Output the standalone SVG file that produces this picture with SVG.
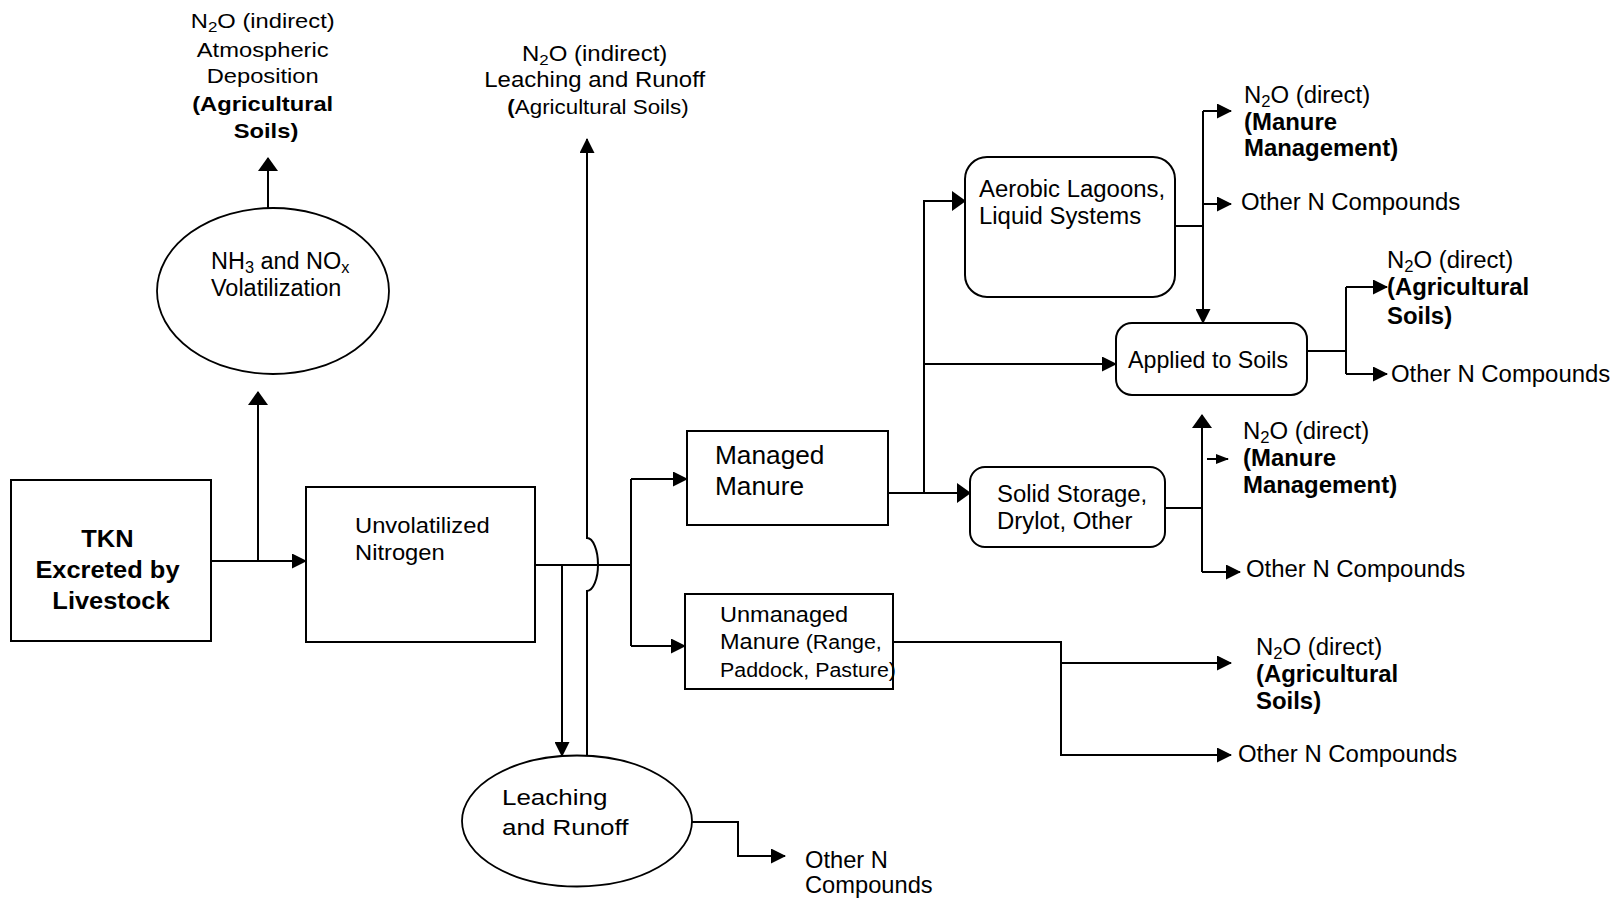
<svg xmlns="http://www.w3.org/2000/svg" width="1617" height="900" viewBox="0 0 1617 900">
<defs>
<style>
.t{font-family:"Liberation Sans",Arial,Helvetica,sans-serif;fill:#000;}
.b{font-weight:bold;}
.box{fill:#fff;stroke:#000;stroke-width:2;}
.ell{fill:#fff;stroke:#000;stroke-width:1.8;}
.ln{fill:none;stroke:#000;stroke-width:2;}
</style>
<marker id="aL" markerUnits="userSpaceOnUse" markerWidth="14" markerHeight="20" refX="13" refY="10" orient="auto"><path d="M0,0 L14,10 L0,20 z" fill="#000"/></marker>
<marker id="aM" markerUnits="userSpaceOnUse" markerWidth="15" markerHeight="15" refX="14" refY="7.5" orient="auto"><path d="M0,0 L15,7.5 L0,15 z" fill="#000"/></marker>
<marker id="aS" markerUnits="userSpaceOnUse" markerWidth="13" markerHeight="10" refX="12" refY="5" orient="auto"><path d="M0,0 L13,5 L0,10 z" fill="#000"/></marker>
</defs>
<rect width="1617" height="900" fill="#fff"/>

<g id="connectors" class="ln">
<path d="M211,561 H306" marker-end="url(#aM)"/>
<path d="M258,561 V392" marker-end="url(#aL)"/>
<path d="M268,208 V158" marker-end="url(#aL)"/>
<path d="M535,565 H631"/>
<path d="M631,479 V646"/>
<path d="M631,479 H687" marker-end="url(#aM)"/>
<path d="M631,646 H685" marker-end="url(#aM)"/>
<path d="M562,565 V756" marker-end="url(#aM)"/>
<path d="M587,755 V591 A11,26.5 0 0 0 587,538 V139" marker-end="url(#aM)"/>
<path d="M888,493 H970" marker-end="url(#aL)"/>
<path d="M924,493 V201 H965" marker-end="url(#aL)"/>
<path d="M924,364 H1116" marker-end="url(#aM)"/>
<path d="M1175,226 H1203"/>
<path d="M1203,111 V323" marker-end="url(#aM)"/>
<path d="M1203,111 H1231" marker-end="url(#aM)"/>
<path d="M1203,204 H1231" marker-end="url(#aM)"/>
<path d="M1307,351 H1346"/>
<path d="M1346,287 V374"/>
<path d="M1346,287 H1387" marker-end="url(#aM)"/>
<path d="M1346,374 H1387" marker-end="url(#aM)"/>
<path d="M1165,508 H1202"/>
<path d="M1202,572 V415" marker-end="url(#aL)"/>
<path d="M1202,572 H1240" marker-end="url(#aM)"/>
<path d="M1207,459 H1228" marker-end="url(#aS)"/>
<path d="M893,642 H1061 V755 H1231" marker-end="url(#aM)"/>
<path d="M1061,663 H1231" marker-end="url(#aM)"/>
<path d="M692,822 H738 V856 H785" marker-end="url(#aM)"/>
</g>

<g id="n2o-atmospheric">
<text class="t" font-size="21" text-anchor="middle" transform="translate(266,28.3) scale(1.13,1)">
<tspan x="0" y="0">N<tspan font-size="15" dy="4">2</tspan><tspan dy="-4">O (indirect)</tspan></tspan>
<tspan x="0" y="28.4">Atmospheric</tspan>
<tspan x="0" y="55">Deposition</tspan>
<tspan x="0" y="82.7" class="b">(Agricultural</tspan>
<tspan x="0" y="110" class="b">Soils)</tspan>
</text>
</g>

<g id="n2o-leaching">
<text class="t" font-size="22" text-anchor="middle" transform="translate(598,61) scale(1.09,1)">
<tspan x="0" y="0">N<tspan font-size="15.5" dy="4">2</tspan><tspan dy="-4">O (indirect)</tspan></tspan>
<tspan x="0" y="26.3">Leaching and Runoff</tspan>
<tspan x="0" y="53.3" font-size="20.5"><tspan class="b">(</tspan>Agricultural Soils)</tspan>
</text>
</g>

<g id="volatilization">
<ellipse class="ell" cx="273" cy="291" rx="116" ry="83"/>
<text class="t" font-size="23" transform="translate(211,269) scale(1.02,1)">
<tspan x="0" y="0">NH<tspan font-size="16" dy="4">3</tspan><tspan dy="-4"> and NO</tspan><tspan font-size="16" dy="4">x</tspan></tspan>
<tspan x="0" y="27">Volatilization</tspan>
</text>
</g>

<g id="tkn">
<rect class="box" x="11" y="480" width="200" height="161"/>
<text class="t b" font-size="24" text-anchor="middle" transform="translate(111,547) scale(1.06,1)">
<tspan x="0" y="0">TKN</tspan>
<tspan x="0" y="31">Excreted by</tspan>
<tspan x="0" y="62">Livestock</tspan>
</text>
</g>

<g id="unvolatilized">
<rect class="box" x="306" y="487" width="229" height="155"/>
<text class="t" font-size="22" transform="translate(355,533) scale(1.08,1)">
<tspan x="0" y="0">Unvolatilized</tspan>
<tspan x="0" y="27">Nitrogen</tspan>
</text>
</g>

<g id="managed">
<rect class="box" x="687" y="431" width="201" height="94"/>
<text class="t" font-size="25" transform="translate(715,464) scale(1.05,1)">
<tspan x="0" y="0">Managed</tspan>
<tspan x="0" y="31">Manure</tspan>
</text>
</g>

<g id="unmanaged">
<rect class="box" x="685" y="594" width="208" height="95"/>
<text class="t" font-size="22" transform="translate(720,622) scale(1.07,1)">
<tspan x="0" y="0">Unmanaged</tspan>
<tspan x="0" y="27.3">Manure<tspan font-size="20"> (Range,</tspan></tspan>
<tspan x="0" y="54.7" font-size="20">Paddock, Pasture)</tspan>
</text>
</g>

<g id="leaching">
<ellipse class="ell" cx="577" cy="821" rx="115" ry="65.5"/>
<text class="t" font-size="22" transform="translate(502,805) scale(1.18,1)">
<tspan x="0" y="0">Leaching</tspan>
<tspan x="0" y="30">and Runoff</tspan>
</text>
</g>

<g id="leaching-other">
<text class="t" font-size="23" transform="translate(805,868) scale(1.03,1)">
<tspan x="0" y="0">Other N</tspan>
<tspan x="0" y="25">Compounds</tspan>
</text>
</g>

<g id="aerobic">
<rect class="box" x="965" y="157" width="210" height="140" rx="22" ry="22"/>
<text class="t" font-size="23" transform="translate(979,197) scale(1.04,1)">
<tspan x="0" y="0">Aerobic Lagoons,</tspan>
<tspan x="0" y="27">Liquid Systems</tspan>
</text>
</g>

<g id="applied">
<rect class="box" x="1116" y="323" width="191" height="72" rx="16" ry="16"/>
<text class="t" font-size="23" transform="translate(1128,368) scale(1.01,1)">Applied to Soils</text>
</g>

<g id="solid">
<rect class="box" x="970" y="467" width="195" height="80" rx="15" ry="15"/>
<text class="t" font-size="23" transform="translate(997,502) scale(1.04,1)">
<tspan x="0" y="0">Solid Storage,</tspan>
<tspan x="0" y="27">Drylot, Other</tspan>
</text>
</g>

<g id="aerobic-n2o">
<text class="t" font-size="23" transform="translate(1244,103) scale(1.04,1)">
<tspan x="0" y="0">N<tspan font-size="16" dy="4">2</tspan><tspan dy="-4">O (direct)</tspan></tspan>
<tspan x="0" y="27" class="b">(Manure</tspan>
<tspan x="0" y="53" class="b">Management)</tspan>
</text>
</g>
<g id="aerobic-other">
<text class="t" font-size="23" transform="translate(1241,210) scale(1.04,1)">Other N Compounds</text>
</g>

<g id="applied-n2o">
<text class="t" font-size="23" transform="translate(1387,268) scale(1.04,1)">
<tspan x="0" y="0">N<tspan font-size="16" dy="4">2</tspan><tspan dy="-4">O (direct)</tspan></tspan>
<tspan x="0" y="27" class="b">(Agricultural</tspan>
<tspan x="0" y="56" class="b">Soils)</tspan>
</text>
</g>
<g id="applied-other">
<text class="t" font-size="23" transform="translate(1391,382) scale(1.04,1)">Other N Compounds</text>
</g>

<g id="solid-n2o">
<text class="t" font-size="23" transform="translate(1243,439) scale(1.04,1)">
<tspan x="0" y="0">N<tspan font-size="16" dy="4">2</tspan><tspan dy="-4">O (direct)</tspan></tspan>
<tspan x="0" y="27" class="b">(Manure</tspan>
<tspan x="0" y="54" class="b">Management)</tspan>
</text>
</g>
<g id="solid-other">
<text class="t" font-size="23" transform="translate(1246,577) scale(1.04,1)">Other N Compounds</text>
</g>

<g id="unmanaged-n2o">
<text class="t" font-size="23" transform="translate(1256,655) scale(1.04,1)">
<tspan x="0" y="0">N<tspan font-size="16" dy="4">2</tspan><tspan dy="-4">O (direct)</tspan></tspan>
<tspan x="0" y="27" class="b">(Agricultural</tspan>
<tspan x="0" y="54" class="b">Soils)</tspan>
</text>
</g>
<g id="unmanaged-other">
<text class="t" font-size="23" transform="translate(1238,762) scale(1.04,1)">Other N Compounds</text>
</g>
</svg>
